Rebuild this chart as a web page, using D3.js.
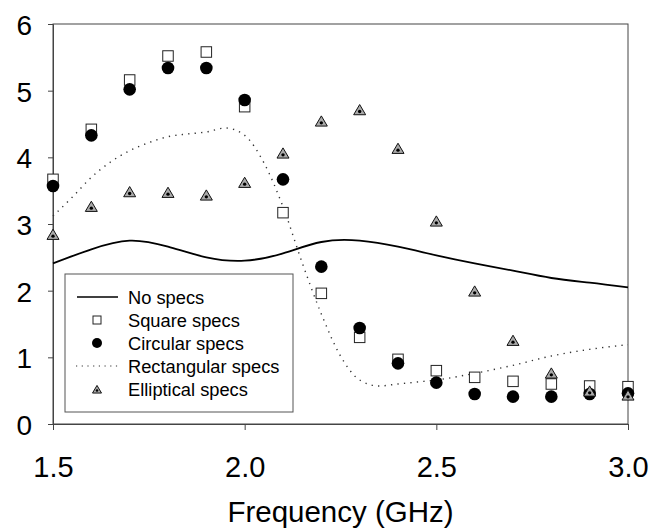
<!DOCTYPE html>
<html><head><meta charset="utf-8">
<script src="https://cdn.jsdelivr.net/npm/d3@7"></script>
<style>body{margin:0;background:#fff}svg{display:block}</style>
</head><body>
<script>
const freq = [1.5,1.6,1.7,1.8,1.9,2.0,2.1,2.2,2.3,2.4,2.5,2.6,2.7,2.8,2.9,3.0];
const squareSpecs   = [3.67,4.42,5.16,5.52,5.58,4.76,3.17,1.96,1.30,0.97,0.80,0.70,0.64,0.60,0.57,0.56];
const circularSpecs = [3.57,4.33,5.02,5.34,5.34,4.86,3.67,2.36,1.44,0.91,0.62,0.45,0.41,0.41,0.45,0.46];
const ellipticalSpecs = [2.83,3.25,3.47,3.46,3.42,3.61,4.05,4.53,4.70,4.12,3.03,1.98,1.24,0.75,0.48,0.42];
const noSpecsX = [1.5,1.6,1.7,1.8,1.9,2.0,2.1,2.2,2.3,2.4,2.5,2.6,2.7,2.8,2.9,3.0];
const noSpecs  = [2.41,2.62,2.75,2.66,2.50,2.45,2.56,2.73,2.75,2.66,2.53,2.41,2.30,2.19,2.12,2.05];
const rectX = [1.5,1.55,1.6,1.65,1.7,1.75,1.8,1.85,1.9,1.95,2.0,2.05,2.1,2.15,2.2,2.25,2.3,2.35,2.4,2.45,2.5,2.6,2.7,2.8,2.9,3.0];
const rectSpecs = [3.12,3.40,3.70,3.93,4.10,4.22,4.31,4.35,4.38,4.44,4.33,3.92,3.26,2.42,1.65,1.02,0.66,0.57,0.60,0.63,0.66,0.76,0.88,1.02,1.12,1.19];
const xTicks = [1.5,2.0,2.5,3.0];
const yTicks = [0,1,2,3,4,5,6];
const legendLabels = ["No specs","Square specs","Circular specs","Rectangular specs","Elliptical specs"];
const xTitle = "Frequency (GHz)";

const W = 652, H = 528;
const FONT = "Arial, 'Liberation Sans', sans-serif";
const svg = d3.select("body").append("svg").attr("width", W).attr("height", H).style("font-family", FONT);
const x = d3.scaleLinear().domain([1.5, 3.0]).range([53, 628]);
const y = d3.scaleLinear().domain([0, 6]).range([424, 24]);
const axisColor = "#444";

// frame
svg.append("rect").attr("x", x(1.5)).attr("y", y(6)).attr("width", x(3.0) - x(1.5)).attr("height", y(0) - y(6))
  .attr("fill", "none").attr("stroke", axisColor).attr("stroke-width", 1);

// axes
const gy = svg.append("g").attr("transform", `translate(${x(1.5)},0)`)
  .call(d3.axisLeft(y).tickValues(yTicks).tickSize(5).tickFormat(d3.format("d")));
const gx = svg.append("g").attr("transform", `translate(0,${y(0)})`)
  .call(d3.axisBottom(x).tickValues(xTicks).tickSize(6).tickFormat(d3.format(".1f")));
[gx, gy].forEach(g => {
  g.select(".domain").attr("stroke", axisColor);
  g.selectAll(".tick line").attr("stroke", axisColor);
  g.selectAll(".tick text").attr("fill", "#000").style("font-family", FONT);
});
gy.selectAll(".tick text").style("font-size", "28px").attr("x", -21).attr("dy", "0.38em");
gx.selectAll(".tick text").style("font-size", "29px").attr("y", 53).attr("dy", null);

svg.append("text").attr("x", (x(1.5) + x(3.0)) / 2).attr("y", 522).attr("text-anchor", "middle")
  .style("font-size", "29.5px").text(xTitle);

// lines
const lineGen = d3.line().curve(d3.curveMonotoneX).x(d => x(d[0])).y(d => y(d[1]));
svg.append("path").datum(rectX.map((v, i) => [v, rectSpecs[i]])).attr("d", lineGen)
  .attr("fill", "none").attr("stroke", "#333").attr("stroke-width", 1.4).attr("stroke-dasharray", "1.3,5.2");
svg.append("path").datum(noSpecsX.map((v, i) => [v, noSpecs[i]])).attr("d", d3.line().curve(d3.curveNatural).x(d => x(d[0])).y(d => y(d[1])))
  .attr("fill", "none").attr("stroke", "#000").attr("stroke-width", 1.8);

// marker helpers
function square(g, cx, cy, s) {
  g.append("rect").attr("x", cx - s / 2).attr("y", cy - s / 2).attr("width", s).attr("height", s)
    .attr("fill", "#fff").attr("stroke", "#222").attr("stroke-width", 1);
}
function circle(g, cx, cy, r) {
  g.append("circle").attr("cx", cx).attr("cy", cy).attr("r", r).attr("fill", "#000");
}
function tri(g, cx, cy, s) {
  const h = s * 0.85;
  g.append("path").attr("d", `M${cx},${cy - h * 0.6}L${cx + s / 2},${cy + h * 0.4}L${cx - s / 2},${cy + h * 0.4}Z`)
    .attr("fill", "#aaa").attr("stroke", "#111").attr("stroke-width", 1);
  g.append("circle").attr("cx", cx).attr("cy", cy + h * 0.08).attr("r", s * 0.14).attr("fill", "#000");
}

const marks = svg.append("g");
freq.forEach((f, i) => square(marks, x(f), y(squareSpecs[i]), 10.5));
freq.forEach((f, i) => circle(marks, x(f), y(circularSpecs[i]), 6.3));
freq.forEach((f, i) => tri(marks, x(f), y(ellipticalSpecs[i]), 12));

// legend
const lg = svg.append("g");
lg.append("rect").attr("x", 65).attr("y", 274).attr("width", 228).attr("height", 138)
  .attr("fill", "#fff").attr("stroke", "#555").attr("stroke-width", 1);
const rowY = [297, 320, 343, 366, 389];
legendLabels.forEach((t, i) => {
  lg.append("text").attr("x", 128).attr("y", rowY[i]).attr("dy", "0.36em").style("font-size", "18.3px").text(t);
});
lg.append("line").attr("x1", 77).attr("x2", 118).attr("y1", rowY[0]).attr("y2", rowY[0]).attr("stroke", "#000").attr("stroke-width", 1.3);
square(lg, 97, rowY[1], 8);
circle(lg, 97, rowY[2], 5);
lg.append("line").attr("x1", 76).attr("x2", 119).attr("y1", rowY[3]).attr("y2", rowY[3]).attr("stroke", "#333").attr("stroke-width", 1.2).attr("stroke-dasharray", "1.2,4.5");
tri(lg, 97, rowY[4] + 1, 9);
</script>
</body></html>
